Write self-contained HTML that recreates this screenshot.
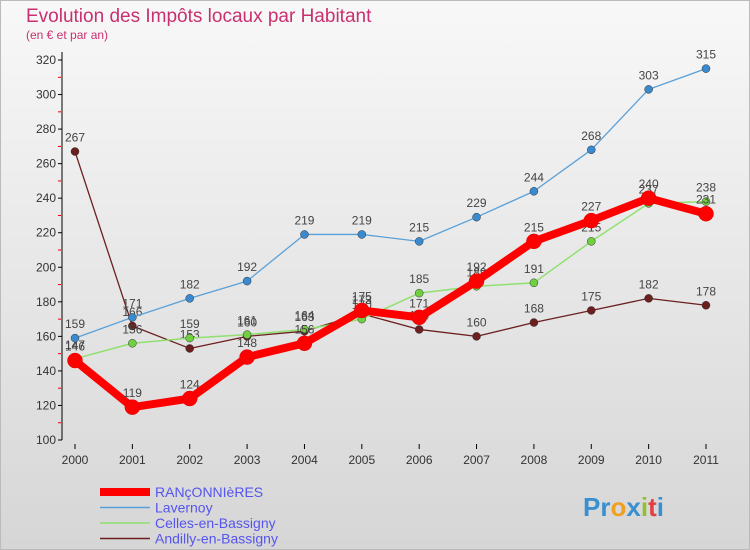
<!DOCTYPE html>
<html><head><meta charset="utf-8"><style>
body{margin:0;background:#fff}
svg{display:block;font-family:"Liberation Sans",sans-serif}
</style></head><body>
<svg width="750" height="550" viewBox="0 0 750 550">
<defs><linearGradient id="bg" x1="0" y1="0" x2="0" y2="1"><stop offset="0" stop-color="#f8f8f8"/><stop offset="1" stop-color="#d6d6d6"/></linearGradient></defs>
<rect x="0.5" y="0.5" width="749" height="549" fill="url(#bg)" stroke="#bbb"/>
<text x="26" y="22" font-size="19" fill="#c8306f">Evolution des Impôts locaux par Habitant</text>
<text x="26" y="39" font-size="12" fill="#c8306f">(en € et par an)</text>
<g id="axes"></g>
<g id="series"></g>
<g id="legend"></g>
<text x="583" y="516" font-size="26" font-weight="bold"><tspan fill="#3a8fd0">Pr</tspan><tspan fill="#f0a020">o</tspan><tspan fill="#3a8fd0">x</tspan><tspan fill="#90c030">i</tspan><tspan fill="#e04040">t</tspan><tspan fill="#3a8fd0">i</tspan></text>
</svg>
<script>
const years=["2000","2001","2002","2003","2004","2005","2006","2007","2008","2009","2010","2011"];
const ranconnieres=[146,119,124,148,156,175,171,192,215,227,240,231];
const lavernoy=[159,171,182,192,219,219,215,229,244,268,303,315];
const celles=[147,156,159,161,164,170,185,189,191,215,237,238];
const andilly=[267,166,153,160,163,173,164,160,168,175,182,178];
const yTicks=[100,120,140,160,180,200,220,240,260,280,300,320];
const NS="http://www.w3.org/2000/svg";
const X=i=>75+i*(706-75)/11;
const Y=v=>440-(v-100)*(380/220);
function mk(t,a,p){const e=document.createElementNS(NS,t);for(const k in a)e.setAttribute(k,a[k]);p.appendChild(e);return e;}
const ax=document.getElementById('axes');
const yl=mk('line',{x1:62,y1:52,x2:62,y2:440,stroke:'#000'},ax);


yTicks.forEach(v=>{
 const y=Y(v);
 mk('line',{x1:58,y1:y,x2:62,y2:y,stroke:'#000'},ax);
 mk('line',{x1:58,y1:y+17.3,x2:61,y2:y+17.3,stroke:v>100?'#e00':'none'},ax);
 const t=mk('text',{x:56,y:y+4,'font-size':12,'text-anchor':'end',fill:'#333'},ax);t.textContent=v;
 
 
});
years.forEach((yr,i)=>{
 mk('line',{x1:X(i),y1:444,x2:X(i),y2:449,stroke:'#000'},ax);
 const t=mk('text',{x:X(i),y:464,'font-size':12,'text-anchor':'middle',fill:'#333'},ax);t.textContent=yr;
 
 
});
const sg=document.getElementById('series');
const series=[
 {name:'andilly',d:andilly,c:'#6b1f1f',w:1.3,r:4},
 {name:'celles',d:celles,c:'#90e070',w:1.5,r:4},
 {name:'lavernoy',d:lavernoy,c:'#5aa0d8',w:1.3,r:4},
 {name:'ranconnieres',d:ranconnieres,c:'#ff0000',w:8,r:7.5}
];
const fills={andilly:'#6b1f1f',celles:'#70d040',lavernoy:'#3a8ad0',ranconnieres:'#f00'};
series.forEach(s=>{
 const g=mk('g',{},sg);
 
 
 mk('polyline',{points:s.d.map((v,i)=>X(i)+','+Y(v)).join(' '),fill:'none',stroke:s.c,'stroke-width':s.w,'stroke-linejoin':'round'},g);
 s.d.forEach((v,i)=>{
  const c=mk('circle',{cx:X(i),cy:Y(v),r:s.r,fill:fills[s.name],stroke:s.name==='ranconnieres'?'#d00':'#333','stroke-width':0.5},g);
  
  
  const t=mk('text',{x:X(i),y:Y(v)-10,'font-size':12,'text-anchor':'middle',fill:'#444'},g);t.textContent=v;
  
  
 });
});
const lg=document.getElementById('legend');
const names=['RANçONNIèRES','Lavernoy','Celles-en-Bassigny','Andilly-en-Bassigny'];
const lc=['#ff0000','#5aa0d8','#90e070','#6b1f1f'],lw=[8,1.5,1.5,1.5];
names.forEach((n,i)=>{
 const y=492+i*15.5;
 const g=mk('g',{},lg);
 
 
 mk('line',{x1:100,y1:y,x2:150,y2:y,stroke:lc[i],'stroke-width':lw[i]},g);
 const t=mk('text',{x:155,y:y+5,'font-size':14,fill:'#5555ee'},g);t.textContent=n;
});
</script>
</body></html>
